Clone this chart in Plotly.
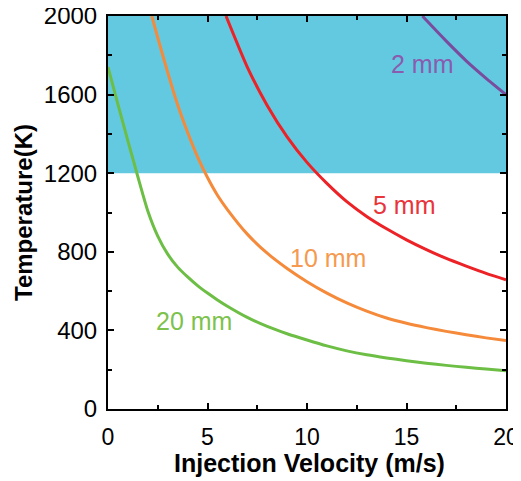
import plotly.graph_objects as go

# Injection velocity (m/s) and temperature (K)
v_20mm = [0, 0.5, 1, 1.5, 2, 2.5, 3, 3.5, 4, 4.5, 5, 5.5, 6, 7, 8, 9, 10, 11, 12, 13, 14, 15, 16,
          17, 18, 19, 20]
t_20mm = [1740, 1550, 1365, 1182, 1008, 880, 788, 722, 672, 628, 590, 555, 523, 466, 420, 383, 351,
          321, 296, 276, 260, 246, 233, 222, 212, 203, 195]

v_10mm = [2.2, 2.5, 3, 3.5, 4, 4.5, 5, 5.5, 6, 7, 8, 9, 10, 11, 12, 13, 14, 15, 16, 17, 18, 19, 20]
t_10mm = [2000, 1890, 1713, 1548, 1408, 1283, 1178, 1088, 1015, 890, 793, 715, 648, 590, 540, 498,
          463, 436, 414, 395, 378, 362, 348]

v_5mm = [5.93, 7, 8, 9, 10, 11, 12, 13, 14, 15, 16, 17, 18, 19, 20]
t_5mm = [2000, 1740, 1545, 1385, 1255, 1148, 1055, 980, 917, 861, 811, 766, 727, 690, 658]

v_2mm = [15.8, 16, 17, 18, 19, 20]
t_2mm = [2000, 1978, 1872, 1772, 1683, 1600]

series_names = ["20 mm", "10 mm", "5 mm", "2 mm"]
line_colors = ["#6DBE45", "#F58A3A", "#EC2227", "#7A4C9E"]
label_colors = ["#7CC24C", "#F59A4E", "#E8343A", "#8A5BAE"]
label_x = [4.3, 11.05, 14.9, 15.8]
label_y = [448, 768, 1038, 1756]

shade_low, shade_high = 1200, 2000

x_title = "Injection Velocity (m/s)"
y_title = "Temperature(K)"

FONT = "Liberation Sans, Arial"

fig = go.Figure()
fig.add_shape(type="rect", xref="x", yref="y", x0=0, x1=20, y0=shade_low, y1=shade_high,
              fillcolor="#63C9E1", line=dict(width=0), layer="below")

for vx, ty, name, c in zip([v_20mm, v_10mm, v_5mm, v_2mm], [t_20mm, t_10mm, t_5mm, t_2mm],
                           series_names, line_colors):
    fig.add_trace(go.Scatter(x=vx, y=ty, mode="lines", name=name,
                             line=dict(color=c, width=3, shape="spline", smoothing=0.6),
                             showlegend=False))

for name, c, lx, ly in zip(series_names, label_colors, label_x, label_y):
    fig.add_annotation(x=lx, y=ly, text=name, showarrow=False,
                       font=dict(family=FONT, size=25, color=c))

# x-axis title placed as paper-anchored text under the tick labels
fig.add_annotation(xref="paper", yref="paper", x=0.506, y=-0.138, xanchor="center",
                   yanchor="middle", text="<b>" + x_title + "</b>", showarrow=False,
                   font=dict(family=FONT, size=25, color="black"))

axis_common = dict(showline=True, linecolor="black", linewidth=2, mirror="allticks",
                   ticks="inside", ticklen=6, tickwidth=2, tickcolor="black",
                   showgrid=False, zeroline=False, automargin=False,
                   ticklabeloverflow="allow")

fig.update_xaxes(range=[0, 20], dtick=5, tick0=0, ticklabelstandoff=6,
                 tickfont=dict(family=FONT, size=23, color="black"),
                 minor=dict(dtick=2.5, ticks="inside", ticklen=4, tickwidth=2, tickcolor="black"),
                 **axis_common)
fig.update_yaxes(range=[0, 2000], dtick=400, tick0=0, ticklabelstandoff=4,
                 tickfont=dict(family=FONT, size=24, color="black"),
                 minor=dict(dtick=200, ticks="inside", ticklen=4, tickwidth=2, tickcolor="black"),
                 title=dict(text="<b>" + y_title + "</b>", standoff=4,
                            font=dict(family=FONT, size=24, color="black")),
                 **axis_common)

# page body adds an 8px offset, so the figure is sized to fit the 521x481 window
fig.update_layout(width=513, height=473, margin=dict(l=100, r=15, t=8, b=72),
                  plot_bgcolor="white", paper_bgcolor="white")

fig.write_html("out.html")
